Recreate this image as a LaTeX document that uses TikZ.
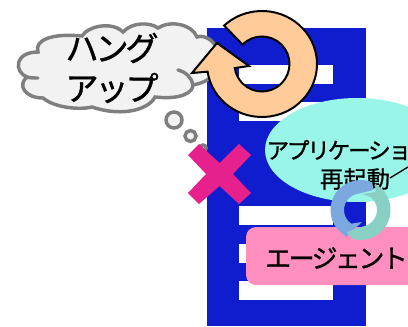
\documentclass[tikz,border=0pt]{standalone}
\usepackage{fontspec}
\setmainfont[FakeBold=1]{Noto Sans CJK JP}
\definecolor{serverblue}{HTML}{0F1DCE}
\definecolor{cloudgray}{HTML}{7F7F7F}
\definecolor{cloudfill}{HTML}{F2F2F2}
\definecolor{loopfill}{HTML}{FFCC99}
\definecolor{appfill}{HTML}{99F5E8}
\definecolor{agentfill}{HTML}{FF8FBF}
\definecolor{crossfill}{HTML}{E6208C}
\definecolor{ringblue}{HTML}{7CA8E0}
\definecolor{ringteal}{HTML}{88CFC4}
\newcommand{\kanafont}[1]{\fontsize{#1}{#1}\selectfont\addfontfeature{LetterSpace=-10}}
\tikzset{
  bar/.style={fill=white},
  cloudline/.style={draw=cloudgray, line width=2.6pt, fill=cloudfill},
  crease/.style={draw=cloudgray, line width=2.6pt, line cap=round},
  label/.style={inner sep=0pt, text=black}
}
\begin{document}
\begin{tikzpicture}[x=0.75pt, y=-0.75pt]
  \path[use as bounding box, clip] (0,0) rectangle (408,326);
  % server
  \fill[serverblue] (206.5,28) rectangle (366,326);
  \foreach \y in {65,102,206,244,281}
    \fill[bar] (239,\y) rectangle (333,\y+19);
  % cloud
  \draw[cloudline] (38,52) .. controls (34,40) and (52,33) .. (82,36)
    .. controls (88,26) and (112,21) .. (123,32)
    .. controls (132,22) and (150,22) .. (158,28)
    .. controls (170,20) and (192,24) .. (197,37)
    .. controls (205,34) and (215,42) .. (216,48)
    .. controls (224,60) and (220,80) .. (193,85)
    .. controls (193,92) and (182,100) .. (155,97)
    .. controls (150,108) and (125,118) .. (92,107)
    .. controls (80,110) and (55,108) .. (43,98)
    .. controls (25,98) and (17,85) .. (27,77)
    .. controls (14,72) and (14,52) .. (38,52) -- cycle;
  \draw[crease] (178,70) .. controls (186,72) and (192,78) .. (193,85);
  \draw[crease] (27,77) .. controls (30,78) and (34,78) .. (38,78);
  \node[label, font=\kanafont{25}] (hang) at (112,48) {ハング};
  \node[label, font=\kanafont{25}] (up) at (112,88) {アップ};
  \draw[cloudline] (174,120) circle (8);
  \draw[cloudline] (190.5,136) circle (5.5);
  \draw[cloudline] (203,148) circle (3);
  % turn arrow
  \draw[fill=loopfill, line width=1.5pt, line join=miter, shift={(262,64)}]
    (171.7:55 and 53) arc[start angle=171.7, end angle=-133.5, x radius=55, y radius=53]
    -- (-135:27.5) arc[start angle=-135, end angle=171.5, radius=27.5]
    -- (-13,2) -- (-45,-21) -- (-70,9) -- cycle;
  % app
  \fill[appfill] (357,150) ellipse (92 and 52);
  \node[label, font=\kanafont{17}] (app) at (349,150) {アプリケーション};
  \node[label, font=\fontsize{17.5}{17.5}\selectfont] (restart) at (355,179) {再起動};
  \coordinate (tickA) at (390,178);
  \coordinate (tickB) at (408,167);
  \draw[line width=1pt] (tickA) -- (tickB);
  % cross
  \fill[crossfill] (188,155) -- (199,144) -- (219.5,163) -- (239,144) -- (251,155) -- (233,174)
    -- (251,193) -- (239,204) -- (219.5,186) -- (199,204) -- (188,193) -- (206,174) -- cycle;
  % agent
  \fill[agentfill, rounded corners=7.5pt] (246,227) rectangle (430,285);
  \node[label, font=\kanafont{19.5}] (agent) at (336.5,258) {エージェント};
  % ring
  \begin{scope}[shift={(360.5,210)}]
    \fill[ringblue] (-67:30) arc[start angle=-67, end angle=-219, radius=30]
      -- (-14.5,27) -- (1.5,12) -- (124:16.5) arc[start angle=124, end angle=264, radius=16.5] -- (13,-20) -- cycle;
    \fill[ringteal] (-61:30) arc[start angle=-61, end angle=104.5, radius=30]
      -- (-14,22) -- (72:16.5) arc[start angle=72, end angle=-50, radius=16.5]
      -- (2,-16) -- (15,-18) -- cycle;
  \end{scope}
\end{tikzpicture}
\end{document}
